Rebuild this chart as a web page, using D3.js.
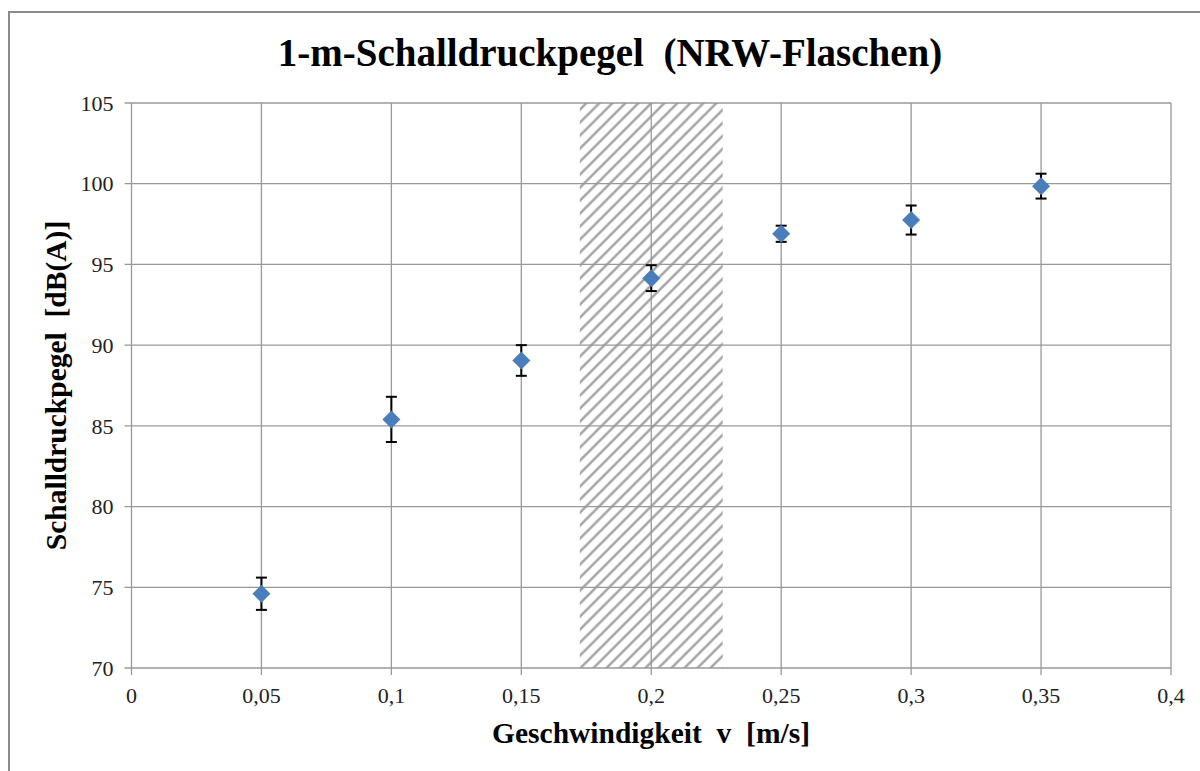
<!DOCTYPE html>
<html>
<head>
<meta charset="utf-8">
<script src="https://cdnjs.cloudflare.com/ajax/libs/d3/7.8.5/d3.min.js"></script>
<style>
  body { margin: 0; background: #fff; }
  svg text { font-family: "Liberation Serif", "DejaVu Serif", serif; }
</style>
</head>
<body>
<div id="chart"></div>
<script>
// measured speeds and 1-m sound pressure levels
var speeds = [0.05, 0.1, 0.15, 0.2, 0.25, 0.3, 0.35];
var levels = [74.6, 85.4, 89.05, 94.15, 96.9, 97.75, 99.85];
var errors = [1.0, 1.4, 0.95, 0.8, 0.5, 0.9, 0.77];
var xTicks = [0, 0.05, 0.1, 0.15, 0.2, 0.25, 0.3, 0.35, 0.4];
var yTicks = [70, 75, 80, 85, 90, 95, 100, 105];
var hatchRange = [0.1725, 0.2275];

var data = speeds.map(function(s, i) {
    return {v: s, L: levels[i], e: errors[i]};
});

var W = 1200, H = 771;
var margin = {top: 103, right: 29, bottom: 103, left: 131.5},
    width = W - margin.left - margin.right,
    height = H - margin.top - margin.bottom;

var serif = '"Liberation Serif", "DejaVu Serif", serif';

var root = d3.select("#chart")
    .append("svg")
        .attr("width", W)
        .attr("height", H);

// hatch pattern for the shaded band
var defs = root.append("defs");
var pat = defs.append("pattern")
    .attr("id", "hatch")
    .attr("patternUnits", "userSpaceOnUse")
    .attr("width", 13)
    .attr("height", 13);
pat.append("path")
    .attr("d", "M-3,3 L3,-3 M0,13 L13,0 M10,16 L16,10")
    .attr("stroke", "#a6a6a6")
    .attr("stroke-width", 2.6);

// outer chart frame
root.append("rect")
    .attr("x", 9)
    .attr("y", 12)
    .attr("width", 1300)
    .attr("height", 900)
    .attr("fill", "none")
    .attr("stroke", "#8c8c8c")
    .attr("stroke-width", 2);

var svg = root.append("g")
    .attr("transform", "translate(" + margin.left + "," + margin.top + ")");

var x = d3.scaleLinear()
    .domain([0, 0.4])
    .range([0, width]);

var y = d3.scaleLinear()
    .domain([70, 105])
    .range([height, 0]);

// shaded band
svg.append("rect")
    .attr("x", x(hatchRange[0]))
    .attr("y", y(105))
    .attr("width", x(hatchRange[1]) - x(hatchRange[0]))
    .attr("height", y(70) - y(105))
    .attr("fill", "url(#hatch)");

var fmt = function(d) { return String(d).replace(".", ","); };

// gridlines
svg.selectAll(".hgrid")
    .data(yTicks)
    .enter()
    .append("line")
    .attr("x1", -7)
    .attr("x2", width)
    .attr("y1", d => y(d))
    .attr("y2", d => y(d))
    .attr("stroke", "#999")
    .attr("stroke-width", 1.3);

svg.selectAll(".vgrid")
    .data(xTicks)
    .enter()
    .append("line")
    .attr("x1", d => x(d))
    .attr("x2", d => x(d))
    .attr("y1", 0)
    .attr("y2", height + 7)
    .attr("stroke", "#999")
    .attr("stroke-width", 1.3);

// tick labels
svg.selectAll(".ylab")
    .data(yTicks)
    .enter()
    .append("text")
    .attr("x", -18)
    .attr("y", d => y(d))
    .attr("dy", "0.35em")
    .attr("text-anchor", "end")
    .attr("font-family", serif)
    .style("font-size", "22px")
    .style("fill", "#222")
    .text(d => d);

svg.selectAll(".xlab")
    .data(xTicks)
    .enter()
    .append("text")
    .attr("x", d => x(d))
    .attr("y", height + 35)
    .attr("text-anchor", "middle")
    .attr("font-family", serif)
    .style("font-size", "22px")
    .style("fill", "#222")
    .text(d => fmt(d));

// error bars
var eb = svg.selectAll(".err")
    .data(data)
    .enter()
    .append("g")
    .attr("stroke", "#000")
    .attr("stroke-width", 2);
eb.append("line")
    .attr("x1", d => x(d.v))
    .attr("x2", d => x(d.v))
    .attr("y1", d => y(d.L + d.e))
    .attr("y2", d => y(d.L - d.e));
eb.append("line")
    .attr("x1", d => x(d.v) - 5.5)
    .attr("x2", d => x(d.v) + 5.5)
    .attr("y1", d => y(d.L + d.e))
    .attr("y2", d => y(d.L + d.e));
eb.append("line")
    .attr("x1", d => x(d.v) - 5.5)
    .attr("x2", d => x(d.v) + 5.5)
    .attr("y1", d => y(d.L - d.e))
    .attr("y2", d => y(d.L - d.e));

// diamond markers
svg.selectAll(".pt")
    .data(data)
    .enter()
    .append("path")
    .attr("d", "M0,-9 L9,0 L0,9 L-9,0 Z")
    .attr("transform", d => "translate(" + x(d.v) + "," + y(d.L) + ")")
    .attr("fill", "#4a7ebb");

// titles
root.append("text")
    .attr("x", 610)
    .attr("y", 66)
    .attr("text-anchor", "middle")
    .attr("font-family", serif)
    .style("font-size", "39px")
    .style("font-weight", "bold")
    .style("white-space", "pre")
    .text("1-m-Schalldruckpegel  (NRW-Flaschen)");

root.append("text")
    .attr("x", 651)
    .attr("y", 743)
    .attr("text-anchor", "middle")
    .attr("font-family", serif)
    .style("font-size", "29.5px")
    .style("font-weight", "bold")
    .style("white-space", "pre")
    .text("Geschwindigkeit  v  [m/s]");

root.append("text")
    .attr("transform", "translate(66," + (margin.top + height / 2) + ") rotate(-90)")
    .attr("text-anchor", "middle")
    .attr("font-family", serif)
    .style("font-size", "29.5px")
    .style("font-weight", "bold")
    .style("white-space", "pre")
    .text("Schalldruckpegel  [dB(A)]");
</script>
</body>
</html>
